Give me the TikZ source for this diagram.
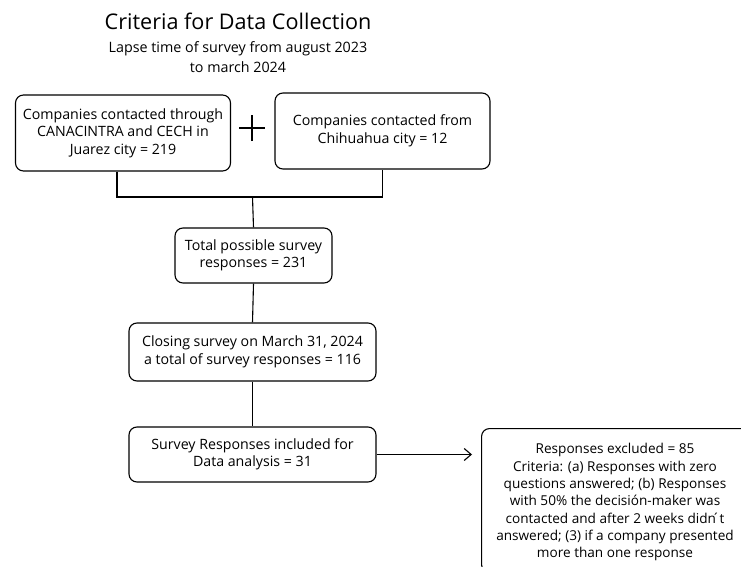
\documentclass[tikz,border=0pt]{standalone}
\usepackage{fontspec}
\setmainfont{Open Sans}
\usetikzlibrary{arrows.meta}
\begin{document}
\begin{tikzpicture}[x=1pt,y=-1pt,
  box/.style={draw, rounded corners=8pt, line width=1.1pt, align=center, inner sep=2pt,
    font=\fontsize{14.2}{17.5}\selectfont},
  conn/.style={line width=1.1pt}]
\useasboundingbox (0,0) rectangle (741,567);
\node[font=\fontsize{21.6}{24}\selectfont] (title) at (238,21) {Criteria for Data Collection};
\node[font=\fontsize{14.3}{20}\selectfont, align=center] (sub) at (238,57) {Lapse time of survey from august 2023\\to march 2024};
\node[box, minimum width=215pt, minimum height=76pt] (b1) at (123,133) {Companies contacted through\\CANACINTRA and CECH in\\Juarez city = 219};
\node[box, minimum width=215pt, minimum height=76pt] (b2) at (382.5,131) {Companies contacted from\\Chihuahua city = 12};
\coordinate (plus) at (252,128);
\draw[line width=1.4pt] ([xshift=-13pt]plus) -- ([xshift=13pt]plus);
\draw[line width=1.4pt] ([yshift=-13pt]plus) -- ([yshift=13pt]plus);
\node[box, minimum width=157pt, minimum height=55pt] (b3) at (253.5,255.5) {Total possible survey\\responses = 231};
\node[box, minimum width=247pt, minimum height=58pt] (b4) at (252.5,352) {Closing survey on March 31, 2024\\a total of survey responses = 116};
\node[box, minimum width=247pt, minimum height=55pt] (b5) at (252.5,454.5) {Survey Responses included for\\Data analysis = 31};
\node[draw, rounded corners=8pt, line width=1.1pt, minimum width=270pt, minimum height=144pt, anchor=north west] (b6) at (481,428) {};
\node[font=\fontsize{13.6}{17.3}\selectfont, align=center, anchor=north] (b6t) at (615,440) {Responses excluded = 85\\Criteria: (a) Responses with zero\\questions answered; (b) Responses\\with 50\% the decisión-maker was\\contacted and after 2 weeks didn\'{}t\\answered; (3) if a company presented\\more than one response};
\coordinate (j) at (252.5,197);
\draw[conn] ([xshift=-6pt]b1.south) |- (j) -| (b2.south);
\draw[conn] (j) -- (b3.north);
\draw[conn] (b3.south) -- (b4.north);
\draw[conn] (b4.south) -- (b5.north);
\draw[conn, -{Straight Barb[length=7pt,width=12pt,line width=1.1pt]}, shorten >=9pt] (b5.east) -- (b5.east -| b6.west);
\end{tikzpicture}
\end{document}
